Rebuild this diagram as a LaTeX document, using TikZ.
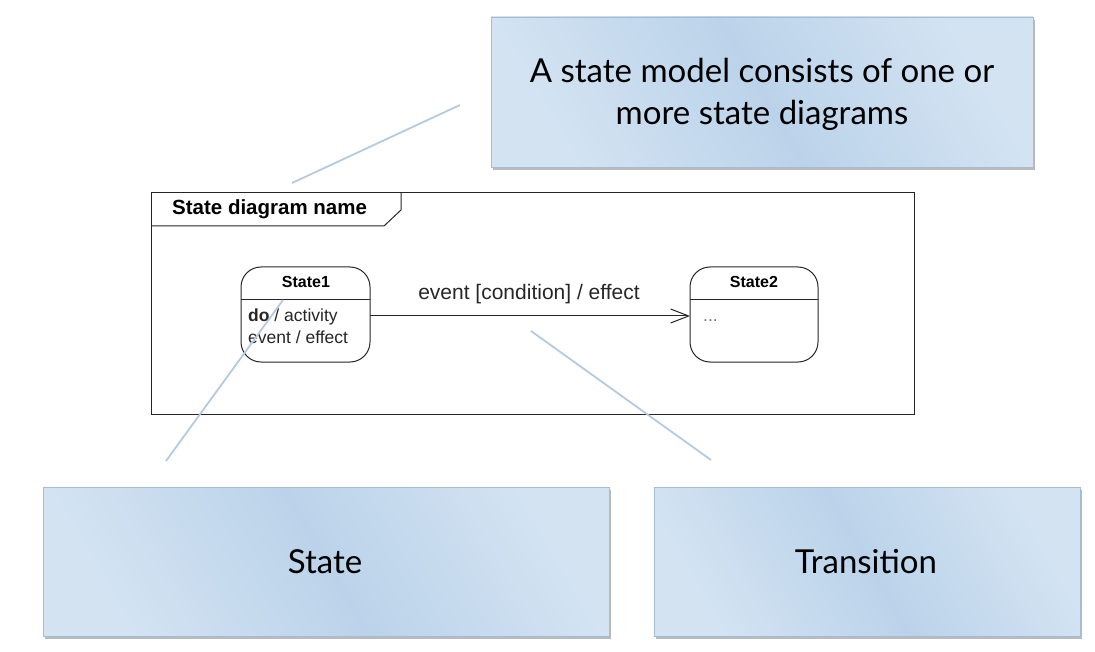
\documentclass[tikz,border=0pt]{standalone}
\usepackage{fontspec}
\setmainfont{Liberation Sans}
\newfontfamily\callfont{Lato}
\usetikzlibrary{shadows,arrows.meta}
\definecolor{boxlight}{HTML}{D3E3F2}
\definecolor{boxmid}{HTML}{BBD3EA}
\definecolor{boxedge}{HTML}{A3BDD6}
\definecolor{callline}{HTML}{B5CADF}
\tikzset{
  callbox/.style={draw=boxedge, line width=0.8pt, shading=axis, left color=boxlight, right color=boxlight, middle color=boxmid, shading angle=120,
    drop shadow={shadow xshift=2pt, shadow yshift=-3pt, opacity=0.45, fill=black!60}},
  calltext/.style={font=\callfont\fontsize{33}{42}\selectfont, align=center, text=black},
  callout/.style={draw=callline, line width=1.8pt},
  umlline/.style={draw=black!85, line width=1pt},
  small/.style={inner sep=0pt, font=\fontsize{17.5}{21}\selectfont, text=black!85},
}
\begin{document}
\begin{tikzpicture}[x=1pt,y=-1pt]
\useasboundingbox (0,0) rectangle (1095,652);
% callout boxes
\path[callbox] (491,17) rectangle (1033,167);
\node[calltext] (topt) at (762,94) {A state model consists of one or\\more state diagrams};
\path[callbox] (43,487) rectangle (609,636);
\node[calltext] (statet) at (325,562) {State};
\path[callbox] (654,487) rectangle (1080,636);
\node[calltext] (transt) at (866,562) {Transition};
% frame
\draw[umlline] (151,193) rectangle (914,414);
\draw[umlline] (151,226) -- (384,226) -- (401,210) -- (401,193);
\node[inner sep=0pt, anchor=base west, font=\bfseries\fontsize{20.5}{24}\selectfont] (fname) at (172,215) {State diagram name};
% states
\draw[umlline, rounded corners=20pt] (241,267) rectangle (370,362);
\draw[umlline] (241,300) -- (370,300);
\node[inner sep=0pt, anchor=base, font=\bfseries\fontsize{16}{19}\selectfont] (s1) at (306,288) {State1};
\node[small, anchor=base west] (s1a) at (248,322) {\textbf{do} / activity};
\node[small, anchor=base west] (s1b) at (248,343) {event / effect};
\draw[umlline, rounded corners=20pt] (690,267) rectangle (818,362);
\draw[umlline] (690,300) -- (818,300);
\node[inner sep=0pt, anchor=base, font=\bfseries\fontsize{16}{19}\selectfont] (s2) at (754,288) {State2};
\node[small, anchor=base west, text=black!55] (s2a) at (703,322) {...};
% transition
\coordinate (tstart) at (370,316);
\coordinate (tend) at (690,316);
\draw[umlline, -{Straight Barb[length=18pt,width=14pt]}] (tstart) -- (tend);
\node[inner sep=0pt, anchor=base, font=\fontsize{21}{24}\selectfont, text=black!85] (tlab) at (529,300) {event [condition] / effect};
% callout lines
\coordinate (c1a) at (460,105); \coordinate (c1b) at (292,183);
\coordinate (c2a) at (283,300); \coordinate (c2b) at (166,461);
\coordinate (c3a) at (531,331); \coordinate (c3b) at (711,460);
\draw[callout] (c1a) -- (c1b);
\draw[callout] (c2a) -- (c2b);
\draw[callout] (c3a) -- (c3b);
\end{tikzpicture}
\end{document}
